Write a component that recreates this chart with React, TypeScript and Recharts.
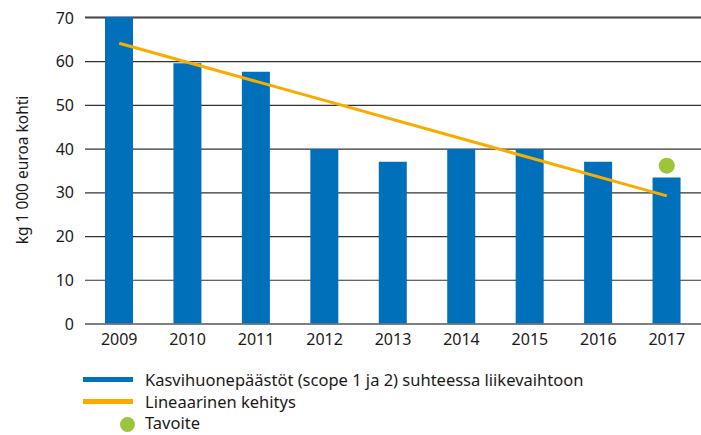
import React from 'react';
import { ComposedChart, Bar, Line, XAxis, YAxis, CartesianGrid } from 'recharts';

const years = ['2009', '2010', '2011', '2012', '2013', '2014', '2015', '2016', '2017'];
const emissions = [70.2, 59.6, 57.7, 40.0, 37.1, 40.0, 40.0, 37.1, 33.5];
const trend: (number | null)[] = [64.2, null, null, null, null, null, null, null, 29.3];
const target: (number | null)[] = [null, null, null, null, null, null, null, null, 36.2];
const yTicks = [0, 10, 20, 30, 40, 50, 60, 70];

const legendLabels = [
  'Kasvihuonepäästöt (scope 1 ja 2) suhteessa liikevaihtoon',
  'Lineaarinen kehitys',
  'Tavoite',
];

const BLUE = '#0070BA';
const ORANGE = '#F9AC00';
const GREEN = '#9BC53D';
const FONT = '"Noto Sans", sans-serif';

const data = years.map((y, i) => ({
  year: y,
  emissions: emissions[i],
  trend: trend[i],
  target: target[i],
}));

const rowCenters = [379.5, 401.5, 423];

export default function App() {
  return (
    <div style={{ position: 'absolute', left: 0, top: 0, width: 701, height: 435, background: '#fff', fontFamily: FONT, overflow: 'hidden' }}>
      <ComposedChart width={701} height={435} data={data} margin={{ top: 17, right: 0, left: 0, bottom: 81 }}>
        <CartesianGrid horizontal vertical={false} stroke="#333" strokeWidth={1.2} />
        <XAxis
          dataKey="year"
          height={30}
          tickLine={false}
          axisLine={{ stroke: '#777', strokeWidth: 1.5 }}
          tick={{ fill: '#1a1a1a', fontSize: 16, fontFamily: FONT }}
          tickMargin={4}
        />
        <YAxis
          width={85}
          domain={[0, 70]}
          ticks={yTicks}
          tickLine={false}
          axisLine={false}
          tick={{ fill: '#1a1a1a', fontSize: 16, fontFamily: FONT }}
          tickMargin={5}
          label={{
            value: 'kg 1 000 euroa kohti',
            content: () => (
              <text
                x={22}
                y={170}
                transform="rotate(-90 22 170)"
                textAnchor="middle"
                dominantBaseline="central"
                fill="#1a1a1a"
                fontSize={15.5}
                fontFamily={FONT}
              >
                kg 1 000 euroa kohti
              </text>
            ),
          }}
        />
        <Bar dataKey="emissions" fill={BLUE} barSize={28} isAnimationActive={false} />
        <Line
          dataKey="trend"
          stroke={ORANGE}
          strokeWidth={3}
          dot={false}
          connectNulls
          isAnimationActive={false}
        />
        <Line
          dataKey="target"
          stroke="none"
          dot={{ r: 8, fill: GREEN, stroke: 'none' }}
          activeDot={false}
          isAnimationActive={false}
        />
      </ComposedChart>
      <div style={{ position: 'absolute', left: 0, top: 0, width: 701, height: 435, pointerEvents: 'none' }}>
        {legendLabels.map((lab, i) => (
          <div
            key={lab}
            style={{
              position: 'absolute',
              left: 83,
              top: rowCenters[i] - 8,
              height: 16,
              lineHeight: '16px',
              display: 'flex',
              alignItems: 'center',
              fontSize: 16.5,
              color: '#1a1a1a',
              whiteSpace: 'nowrap',
            }}
          >
            <div style={{ width: 50, height: 16, position: 'relative', marginRight: 12 }}>
              {i < 2 ? (
                <div style={{ position: 'absolute', left: 0, top: 5.5, width: 50, height: 5, background: i === 0 ? BLUE : ORANGE }} />
              ) : (
                <div style={{ position: 'absolute', left: 37, top: 1.5, width: 15, height: 15, borderRadius: '50%', background: GREEN }} />
              )}
            </div>
            <span>{lab}</span>
          </div>
        ))}
      </div>
    </div>
  );
}
